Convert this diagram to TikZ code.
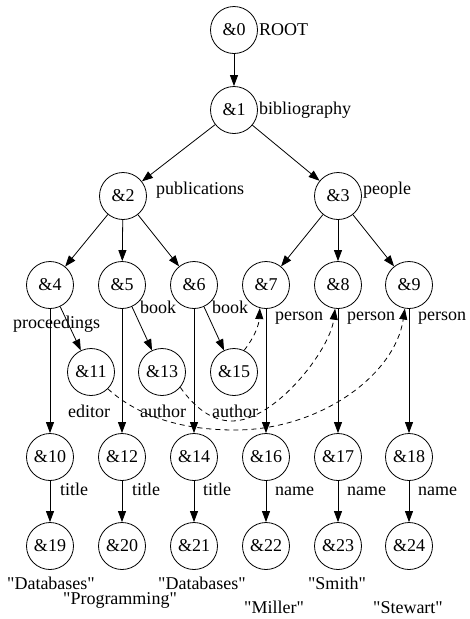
\documentclass[tikz,border=0pt]{standalone}
\usepackage{fontspec}
\setmainfont{Liberation Serif}[Ligatures=TeXOff]
\usetikzlibrary{arrows.meta}
\begin{document}
\begin{tikzpicture}[x=1pt,y=-1pt,
  every node/.style={font=\fontsize{18}{21}\selectfont},
  obj/.style={circle,draw,line width=0.8pt,minimum size=47pt,inner sep=0pt},
  lbl/.style={anchor=base west,inner sep=0pt},
  val/.style={anchor=base,inner sep=0pt},
  edge/.style={line width=0.8pt,-{Triangle[length=11pt,width=8pt]}},
  refedge/.style={edge,dash pattern=on 5pt off 4pt}]
\useasboundingbox (0,0) rectangle (469,619);
% objects
\node[obj] (n0) at (234,30) {\&0};
\node[obj] (n1) at (234,110) {\&1};
\node[obj] (n2) at (123,196) {\&2};
\node[obj] (n3) at (338,196) {\&3};
\node[obj] (n4) at (50,285) {\&4};
\node[obj] (n5) at (122,285) {\&5};
\node[obj] (n6) at (194,285) {\&6};
\node[obj] (n7) at (266,285) {\&7};
\node[obj] (n8) at (338,285) {\&8};
\node[obj] (n9) at (409,285) {\&9};
\node[obj] (n11) at (91,372) {\&11};
\node[obj] (n13) at (162,372) {\&13};
\node[obj] (n15) at (234,372) {\&15};
\node[obj] (n10) at (50,457) {\&10};
\node[obj] (n12) at (122,457) {\&12};
\node[obj] (n14) at (194,457) {\&14};
\node[obj] (n16) at (266,457) {\&16};
\node[obj] (n17) at (338,457) {\&17};
\node[obj] (n18) at (409,457) {\&18};
\node[obj] (n19) at (50,546) {\&19};
\node[obj] (n20) at (122,546) {\&20};
\node[obj] (n21) at (194,546) {\&21};
\node[obj] (n22) at (266,546) {\&22};
\node[obj] (n23) at (338,546) {\&23};
\node[obj] (n24) at (409,546) {\&24};
% edges
\draw[edge] (n0) -- (n1);
\draw[edge] (n1) -- (n2);
\draw[edge] (n1) -- (n3);
\draw[edge] (n2) -- (n4);
\draw[edge] (n2) -- (n5);
\draw[edge] (n2) -- (n6);
\draw[edge] (n3) -- (n7);
\draw[edge] (n3) -- (n8);
\draw[edge] (n3) -- (n9);
\draw[edge] (n4) -- (n10);
\draw[edge] (n4) -- (n11);
\draw[edge] (n5) -- (n12);
\draw[edge] (n5) -- (n13);
\draw[edge] (n6) -- (n14);
\draw[edge] (n6) -- (n15);
\draw[edge] (n7) -- (n16);
\draw[edge] (n8) -- (n17);
\draw[edge] (n9) -- (n18);
\draw[edge] (n10) -- (n19);
\draw[edge] (n12) -- (n20);
\draw[edge] (n14) -- (n21);
\draw[edge] (n16) -- (n22);
\draw[edge] (n17) -- (n23);
\draw[edge] (n18) -- (n24);
% reference edges
\draw[refedge] (n15.65) .. controls (254,338) and (259,325) .. (n7.-105);
\draw[refedge] (n13.-40) .. controls (195,408) and (212,421) .. (232,421)
  .. controls (275,421) and (330,350) .. (n8.-97);
\draw[refedge] (n11.-45) .. controls (140,418) and (185,430) .. (235,430)
  .. controls (320,430) and (395,375) .. (n9.-100);
% labels
\node[lbl] (l0) at (259,35) {ROOT};
\node[lbl] (l1) at (259,114) {bibliography};
\node[lbl] (l2) at (156,194) {publications};
\node[lbl] (l3) at (363,194) {people};
\node[lbl] (l4) at (13,328) {proceedings};
\node[lbl] (l5) at (140,313) {book};
\node[lbl] (l6) at (212,313) {book};
\node[lbl] (l7) at (275,320) {person};
\node[lbl] (l8) at (347,320) {person};
\node[lbl] (l9) at (418,320) {person};
\node[lbl] (l11) at (68,417) {editor};
\node[lbl] (l13) at (140,417) {author};
\node[lbl] (l15) at (212,417) {author};
\node[lbl] (l10) at (60,495) {title};
\node[lbl] (l12) at (132,495) {title};
\node[lbl] (l14) at (203,495) {title};
\node[lbl] (l16) at (275,495) {name};
\node[lbl] (l17) at (347,495) {name};
\node[lbl] (l18) at (418,495) {name};
% values
\node[val] (v19) at (51,589) {"Databases"};
\node[val] (v20) at (120,604) {"Programming"};
\node[val] (v21) at (202,589) {"Databases"};
\node[val] (v22) at (274,613) {"Miller"};
\node[val] (v23) at (337,589) {"Smith"};
\node[val] (v24) at (408,613) {"Stewart"};
\end{tikzpicture}
\end{document}
